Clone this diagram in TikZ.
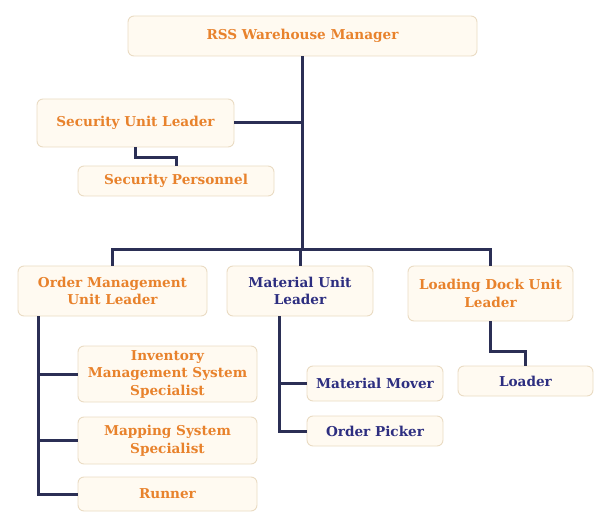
\documentclass[tikz,border=0pt]{standalone}
\usepackage{fontspec}
\setmainfont{DejaVu Serif}
\definecolor{boxfill}{HTML}{FFFAF1}
\definecolor{boxline}{HTML}{EADBC3}
\definecolor{orangetxt}{HTML}{E8822C}
\definecolor{navytxt}{HTML}{2D2E80}
\definecolor{linkcol}{HTML}{2B2F55}
\tikzset{
  unit/.style={draw=boxline,line width=0.9pt,fill=boxfill,rounded corners=6pt,
    align=center,inner sep=0pt,font=\bfseries\fontsize{13.6}{17.5}\selectfont},
  orangeunit/.style={unit,text=orangetxt},
  navyunit/.style={unit,text=navytxt},
  link/.style={draw=linkcol,line width=3pt}
}
\begin{document}
\begin{tikzpicture}[x=1pt,y=-1pt]
        \useasboundingbox (0,0) rectangle (614,524) ;
        %\draw[very thin,gray,step=10] (0,0) grid (614,524) ;
        \node[orangeunit,minimum width=349,minimum height=40] (mgr) at (302.5,36) {RSS Warehouse Manager} ;
        \node[orangeunit,minimum width=197,minimum height=48] (sul) at (135.5,123) {Security Unit Leader} ;
        \node[orangeunit,minimum width=196,minimum height=30] (sp) at (176,181) {Security Personnel} ;
        \node[orangeunit,minimum width=189,minimum height=50] (oml) at (112.5,291) {Order Management\\Unit Leader} ;
        \node[navyunit,minimum width=146,minimum height=50] (mul) at (300,291) {Material Unit\\Leader} ;
        \node[orangeunit,minimum width=165,minimum height=55] (ldl) at (490.5,293.5) {Loading Dock Unit\\Leader} ;
        \node[orangeunit,minimum width=179,minimum height=56] (ims) at (167.5,374) {Inventory\\Management System\\Specialist} ;
        \node[orangeunit,minimum width=179,minimum height=47] (msp) at (167.5,440.5) {Mapping System\\Specialist} ;
        \node[orangeunit,minimum width=179,minimum height=34] (run) at (167.5,494) {Runner} ;
        \node[navyunit,minimum width=136,minimum height=35] (mmv) at (375,383.5) {Material Mover} ;
        \node[navyunit,minimum width=136,minimum height=30] (opk) at (375,431) {Order Picker} ;
        \node[navyunit,minimum width=135,minimum height=30] (ldr) at (525.5,381) {Loader} ;
        % trunk lines
        \coordinate (bar) at (302,250) ;
        \coordinate (omt) at (38,316) ;
        \coordinate (mt) at (279,316) ;
        \draw[link] (mgr.south) -- (mgr.south |- bar) ;
        \draw[link] (sul.east) -- (sul.east -| mgr.south) ;
        \draw[link] (sul.south) -- ++(0,10) -| (sp.north) ;
        \draw[link] (oml.north) -- (oml.north |- bar) -| (ldl.north) ;
        \draw[link] (mul.north) -- (mul.north |- bar) ;
        \draw[link] (omt) |- (run.west) ;
        \draw[link] (omt |- ims.west) -- (ims.west) ;
        \draw[link] (omt |- msp.west) -- (msp.west) ;
        \draw[link] (mt) |- (opk.west) ;
        \draw[link] (mt |- mmv.west) -- (mmv.west) ;
        \draw[link] (ldl.south) -- ++(0,30) -| (ldr.north) ;
      \end{tikzpicture}
\end{document}
